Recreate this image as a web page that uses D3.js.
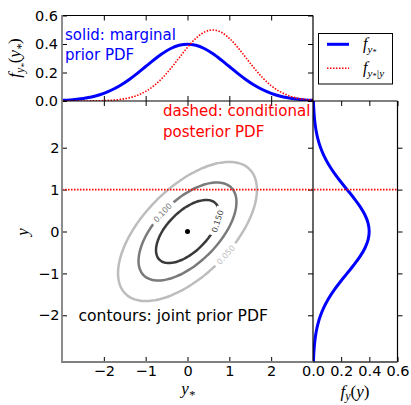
<!DOCTYPE html>
<html><head><meta charset="utf-8">
<script src="https://cdn.jsdelivr.net/npm/d3@7"></script>
<style>body{margin:0;background:#fff}svg{display:block}</style>
</head><body>
<svg id="c" width="411" height="405"></svg>
<script>
// ---- data ----
const grid = [-3.2,-3.0,-2.8,-2.6,-2.4,-2.2,-2.0,-1.8,-1.6,-1.4,-1.2,-1.0,-0.8,-0.6,-0.4,-0.2,0,
              0.2,0.4,0.6,0.8,1.0,1.2,1.4,1.6,1.8,2.0,2.2,2.4,2.6,2.8,3.0,3.2];
const priorPdf = [0.0024,0.0044,0.0079,0.0136,0.0224,0.0355,0.0540,0.0790,0.1109,0.1497,0.1942,0.2420,0.2897,0.3332,0.3683,0.3910,0.3989,
                  0.3910,0.3683,0.3332,0.2897,0.2420,0.1942,0.1497,0.1109,0.0790,0.0540,0.0355,0.0224,0.0136,0.0079,0.0044,0.0024];
const posteriorPdf = [0.00001,0.00002,0.00006,0.00017,0.00044,0.00109,0.00254,0.00554,0.01137,0.02191,0.03967,0.06749,0.10785,0.16190,0.22831,0.30247,0.37643,
                      0.44008,0.48334,0.49868,0.48334,0.44008,0.37643,0.30247,0.22831,0.16190,0.10785,0.06749,0.03967,0.02191,0.01137,0.00554,0.00254];
const contourLevels = [0.05, 0.10, 0.15];
const contourLabels = ["0.050", "0.100", "0.150"];
const semiMajor = [2.10, 1.48, 0.95];   // along the y = y* diagonal
const semiMinor = [1.05, 0.74, 0.48];
const labelParam = [-1.45, 1.64, -0.77]; // where the inline label sits on each contour
const mainTicks = [-2, -1, 0, 1, 2];
const pdfTicks = [0.0, 0.2, 0.4, 0.6];
const observedY = [1];
const meanPoint = [[0, 0]];

// ---- layout ----
const svg = d3.select("#c");
const L = 62, R = 313, T = 101, B = 362, TT = 15.5, RR = 397.5;
const x = d3.scaleLinear([-3, 3], [L, R]);
const y = d3.scaleLinear([-3.115, 3.115], [B, T]);
const yTop = d3.scaleLinear([0, 0.6], [T, TT]);
const xRight = d3.scaleLinear([0, 0.6], [R, RR]);
const BLUE = "#0000ff", RED = "#ff0000";
const SANS = "'DejaVu Sans', sans-serif", SERIF = "'Liberation Serif', 'DejaVu Serif', serif";

const defs = svg.append("defs");
function clip(id, x0, y0, w, h) {
  defs.append("clipPath").attr("id", id).append("rect").attr("x", x0).attr("y", y0).attr("width", w).attr("height", h);
}
clip("cTop", L, TT, R - L, T - TT);
clip("cMain", L, T, R - L, B - T);
clip("cRight", R, T, RR - R, B - T);

// ---- axes (inward ticks) ----
function axis(gen, tx, ty, ticks, fmt, pad) {
  const g = svg.append("g").attr("transform", `translate(${tx},${ty})`)
    .call(gen.tickValues(ticks).tickSize(-5).tickPadding(pad).tickFormat(fmt));
  g.select(".domain").remove();
  g.attr("font-size", 14.5).attr("font-family", SANS);
  g.selectAll("line").attr("stroke", "#000").attr("stroke-width", 1);
  g.selectAll("text").attr("fill", "#000");
  return g;
}
const none = () => "";
const f1 = d3.format(".1f");
const fi = d3.format("d");
// top panel
axis(d3.axisLeft(yTop), L, 0, pdfTicks, f1, 4);
axis(d3.axisRight(yTop), R, 0, pdfTicks, none, 0);
axis(d3.axisBottom(x), 0, T, mainTicks, none, 0);
axis(d3.axisTop(x), 0, TT, mainTicks, none, 0);
// main panel
axis(d3.axisLeft(y), L, 0, mainTicks, fi, 2.5);
axis(d3.axisRight(y), R, 0, mainTicks, none, 0);
axis(d3.axisBottom(x), 0, B, mainTicks, fi, 3.5);
axis(d3.axisTop(x), 0, T, mainTicks, none, 0);
// right panel
axis(d3.axisBottom(xRight), 0, B, pdfTicks, f1, 3.5);
axis(d3.axisTop(xRight), 0, T, pdfTicks, none, 0);
axis(d3.axisLeft(y), RR, 0, mainTicks, none, 0);

// ---- top panel curves ----
const topG = svg.append("g").attr("clip-path", "url(#cTop)");
const lineTop = d3.line().x((d, i) => x(grid[i])).y(d => yTop(d)).curve(d3.curveCatmullRom);
topG.append("path").attr("d", lineTop(priorPdf)).attr("fill", "none").attr("stroke", BLUE).attr("stroke-width", 3);
topG.append("path").attr("d", lineTop(posteriorPdf)).attr("fill", "none").attr("stroke", RED)
  .attr("stroke-width", 1.6).attr("stroke-dasharray", "1.5,1.5");

// ---- right panel curve ----
const rightG = svg.append("g").attr("clip-path", "url(#cRight)");
const lineRight = d3.line().x(d => xRight(d)).y((d, i) => y(grid[i])).curve(d3.curveCatmullRom);
rightG.append("path").attr("d", lineRight(priorPdf)).attr("fill", "none").attr("stroke", BLUE).attr("stroke-width", 3);

// ---- contours ----
const contourColor = d3.scaleOrdinal(contourLevels, ["#bdbdbd", "#7a7a7a", "#3a3a3a"]);
const c45 = Math.SQRT1_2;
function ellPt(k, t) {
  const a = semiMajor[k] * Math.cos(t), b = semiMinor[k] * Math.sin(t);
  return [(a - b) * c45, (a + b) * c45];
}
const mask = defs.append("mask").attr("id", "gapMask").attr("maskUnits", "userSpaceOnUse")
  .attr("x", 0).attr("y", 0).attr("width", 411).attr("height", 405);
mask.append("rect").attr("width", 411).attr("height", 405).attr("fill", "#fff");
const mainG = svg.append("g").attr("clip-path", "url(#cMain)");
const contG = mainG.append("g").attr("mask", "url(#gapMask)");
const labG = mainG.append("g");
const ellLine = d3.line().x(d => x(d[0])).y(d => y(d[1])).curve(d3.curveCardinalClosed);
contourLevels.forEach((lev, k) => {
  const pts = d3.range(0, 2 * Math.PI, Math.PI / 60).map(t => ellPt(k, t));
  contG.append("path").attr("d", ellLine(pts)).attr("fill", "none")
    .attr("stroke", contourColor(lev)).attr("stroke-width", 2.5);
  const t = labelParam[k];
  const p = ellPt(k, t), q = ellPt(k, t + 0.01);
  const px = x(p[0]), py = y(p[1]);
  let ang = Math.atan2(y(q[1]) - py, x(q[0]) - px) * 180 / Math.PI;
  if (ang > 90) ang -= 180; if (ang < -90) ang += 180;
  mask.append("rect").attr("x", -15).attr("y", -5).attr("width", 30).attr("height", 10).attr("fill", "#000")
    .attr("transform", `translate(${px},${py}) rotate(${ang})`);
  labG.append("text").text(contourLabels[k]).attr("transform", `translate(${px},${py}) rotate(${ang})`)
    .attr("text-anchor", "middle").attr("dy", "0.35em").attr("font-size", 8).attr("font-family", SANS)
    .attr("fill", contourColor(lev));
});
mainG.selectAll("circle.mean").data(meanPoint).join("circle").attr("class", "mean")
  .attr("cx", d => x(d[0])).attr("cy", d => y(d[1])).attr("r", 2.5).attr("fill", "#000");

// observed y line across main and right panels
svg.selectAll("line.obs").data(observedY).join("line").attr("class", "obs")
  .attr("x1", L).attr("x2", RR).attr("y1", d => y(d)).attr("y2", d => y(d))
  .attr("stroke", RED).attr("stroke-width", 1.6).attr("stroke-dasharray", "1.5,1.5");

// ---- spines ----
function seg(x1, y1, x2, y2, col, w) {
  svg.append("line").attr("x1", x1).attr("y1", y1).attr("x2", x2).attr("y2", y2)
    .attr("stroke", col).attr("stroke-width", w);
}
seg(L, TT, R, TT, "#000", 1.2);
seg(R, TT, R, B, "#000", 1.2);
seg(L, T, RR, T, "#000", 1.2);
seg(RR, T, RR, B, "#000", 1.2);
seg(R, B, RR, B, "#333", 1.4);
seg(L, TT - 0.6, L, B + 0.9, "#808080", 1.8);
seg(L, B, R, B, "#808080", 1.8);

// ---- annotations ----
function txt(s, x0, y0, col, fs) {
  svg.append("text").text(s).attr("x", x0).attr("y", y0).attr("fill", col)
    .attr("font-size", fs || 15).attr("font-family", SANS);
}
txt("solid: marginal", 65, 39.5, BLUE);
txt("prior PDF", 65, 59.5, BLUE);
txt("dashed: conditional", 163, 116, RED);
txt("posterior PDF", 163, 136.5, RED);
txt("contours: joint prior PDF", 78.5, 321, "#000", 15.6);

// ---- math labels ----
function mathText(x0, y0, parts, rot, anchor) {
  const t = svg.append("text").attr("text-anchor", anchor || "middle")
    .attr("transform", `translate(${x0},${y0})` + (rot ? ` rotate(${rot})` : ""))
    .attr("font-family", SERIF).attr("fill", "#000");
  let cur = 0;
  parts.forEach(p => {
    const sub = p.sub || 0;
    t.append("tspan").text(p.t).attr("dy", sub - cur).attr("font-size", p.s)
      .attr("font-style", p.up ? "normal" : "italic");
    cur = sub;
  });
  return t;
}
mathText(20, 58, [{t: "f", s: 17}, {t: "y", s: 12, sub: 4}, {t: "*", s: 9, sub: 7}, {t: "(", s: 17, up: true},
  {t: "y", s: 17}, {t: "*", s: 12, sub: 5}, {t: ")", s: 17, up: true}], -90);
mathText(28, 232, [{t: "y", s: 17}], -90);
mathText(188, 394, [{t: "y", s: 17}, {t: "*", s: 12, sub: 5}]);
mathText(355, 397, [{t: "f", s: 17}, {t: "y", s: 12, sub: 3}, {t: "(", s: 17, up: true}, {t: "y", s: 17}, {t: ")", s: 17, up: true}]);

// ---- legend ----
const lg = svg.append("g");
lg.append("rect").attr("x", 318.5).attr("y", 33.5).attr("width", 74).attr("height", 50.5)
  .attr("fill", "#fff").attr("stroke", "#000").attr("stroke-width", 1);
lg.append("line").attr("x1", 327).attr("x2", 349).attr("y1", 44.3).attr("y2", 44.3).attr("stroke", BLUE).attr("stroke-width", 3);
lg.append("line").attr("x1", 327).attr("x2", 349).attr("y1", 68.3).attr("y2", 68.3).attr("stroke", RED)
  .attr("stroke-width", 1.6).attr("stroke-dasharray", "1.5,1.5");
mathText(363, 49, [{t: "f", s: 16}, {t: "y", s: 11, sub: 4}, {t: "*", s: 8, sub: 6}], 0, "start");
mathText(363, 73, [{t: "f", s: 16}, {t: "y", s: 11, sub: 4}, {t: "*", s: 8, sub: 6}, {t: "|y", s: 11, sub: 4}], 0, "start");
</script>
</body></html>
